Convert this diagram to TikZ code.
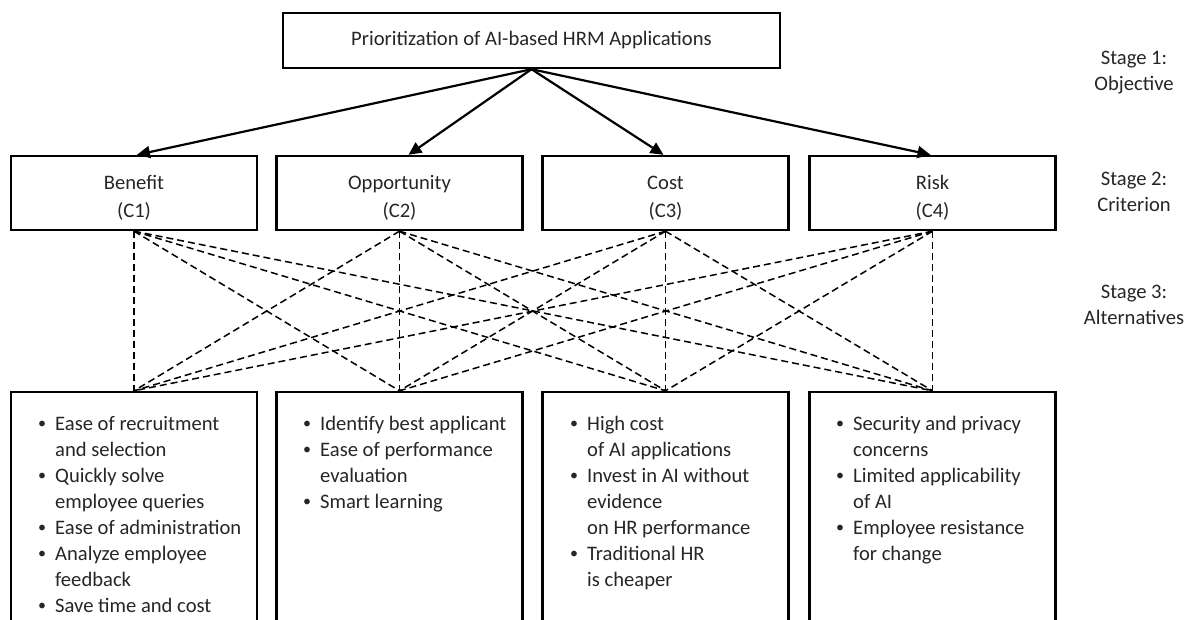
\documentclass[tikz,border=0pt]{standalone}
\usepackage{fontspec}
\setmainfont{Carlito}
\usetikzlibrary{arrows.meta}
\newcommand{\bul}{\makebox[9pt][l]{\raisebox{2pt}{\fontsize{16}{16}\selectfont\textbullet}}}
\begin{document}
\begin{tikzpicture}[x=1pt,y=-1pt,
  box/.style={draw, line width=2.4pt, inner sep=0pt, align=center,
    font=\fontsize{20.6}{27}\selectfont, text=black!85},
  critbox/.style={draw, line width=2.4pt, minimum width=246pt, minimum height=74pt, inner sep=0pt},
  crittext/.style={inner sep=0pt, align=center,
    font=\fontsize{20.6}{28}\selectfont, text=black!85},
  altbox/.style={draw, line width=2.4pt, minimum width=246pt, minimum height=250pt, inner sep=0pt},
  conn/.style={line width=2.2pt, -{Triangle[length=13pt,width=12pt]}},
  link/.style={line width=1.5pt, dash pattern=on 7pt off 4pt},
  items/.style={anchor=north west, inner sep=0pt, align=left,
    font=\fontsize{20.6}{26}\selectfont, text=black!85},
  stagelbl/.style={inner sep=0pt, align=center,
    font=\fontsize{20.6}{26}\selectfont, text=black!85},
]
\useasboundingbox (0,0) rectangle (1190,619);
\begin{scope}
\clip (0,0) rectangle (1190,619);

% Stage 1
\node[box, minimum width=497pt, minimum height=55pt] (top) at (531.5,40.5)
  {Prioritization of AI-based HRM Applications};

% Stage 2
\node[critbox] (c1) at (134,193) {};
\node[critbox] (c2) at (399.5,193) {};
\node[critbox] (c3) at (665.5,193) {};
\node[critbox] (c4) at (932.5,193) {};
\node[crittext] (c1t) at (134,198) {Benefit\\(C1)};
\node[crittext] (c2t) at (399.5,198) {Opportunity\\(C2)};
\node[crittext] (c3t) at (665.5,198) {Cost\\(C3)};
\node[crittext] (c4t) at (932.5,198) {Risk\\(C4)};

% Stage 3 boxes
\node[altbox] (a1) at (134,517) {};
\node[altbox] (a2) at (399.5,517) {};
\node[altbox] (a3) at (665.5,517) {};
\node[altbox] (a4) at (932.5,517) {};

% arrows
\draw[conn] (top.south) -- ([xshift=3pt]c1.north);
\draw[conn] (top.south) -- ([xshift=9pt]c2.north);
\draw[conn] (top.south) -- ([xshift=-2pt]c3.north);
\draw[conn] (top.south) -- ([xshift=-2pt]c4.north);

% dashed links
\foreach \c in {c1,c2,c3,c4}{
  \foreach \a in {a1,a2,a3,a4}{
    \draw[link] (\c.south) -- (\a.north);
  }
}

% alternatives text
\node[items] (t1) at (38,412) {\begin{tabular}{@{}l@{\hspace{8pt}}l@{}}
\bul & Ease of recruitment\\
 & and selection\\
\bul & Quickly solve\\
 & employee queries\\
\bul & Ease of administration\\
\bul & Analyze employee\\
 & feedback\\
\bul & Save time and cost
\end{tabular}};
\node[items] (t2) at (303,412) {\begin{tabular}{@{}l@{\hspace{8pt}}l@{}}
\bul & Identify best applicant\\
\bul & Ease of performance\\
 & evaluation\\
\bul & Smart learning
\end{tabular}};
\node[items] (t3) at (570,412) {\begin{tabular}{@{}l@{\hspace{8pt}}l@{}}
\bul & High cost\\
 & of AI applications\\
\bul & Invest in AI without\\
 & evidence\\
 & on HR performance\\
\bul & Traditional HR\\
 & is cheaper
\end{tabular}};
\node[items] (t4) at (836,412) {\begin{tabular}{@{}l@{\hspace{8pt}}l@{}}
\bul & Security and privacy\\
 & concerns\\
\bul & Limited applicability\\
 & of AI\\
\bul & Employee resistance\\
 & for change
\end{tabular}};

% stage labels
\node[stagelbl] (s1) at (1134,73) {Stage 1:\\Objective};
\node[stagelbl] (s2) at (1134,192) {Stage 2:\\Criterion};
\node[stagelbl] (s3) at (1134,305) {Stage 3:\\Alternatives};
\end{scope}
\end{tikzpicture}
\end{document}
